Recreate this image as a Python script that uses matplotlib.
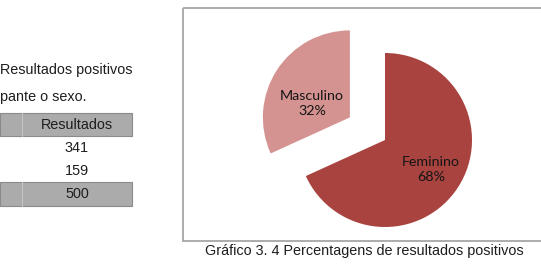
import matplotlib
matplotlib.use('Agg')
import matplotlib.pyplot as plt
import numpy as np
from matplotlib.patches import Rectangle

# dados
categorias = ['Feminino', 'Masculino']
resultados = [341, 159]
total = 500
cabecalho = 'Resultados'
cores = ['#a8433f', '#d49391']
legenda = 'Gráfico 3. 4 Percentagens de resultados positivos'
texto_tabela = ['Resultados positivos', 'pante o sexo.']

W, H = 541, 278
fig = plt.figure(figsize=(W / 100, H / 100), dpi=100)

# eixo de fundo em pixels
fundo = fig.add_axes([0, 0, 1, 1])
fundo.set_xlim(0, W)
fundo.set_ylim(H, 0)
fundo.axis('off')

fs = 10.4
# texto antes da tabela
fundo.text(0, 70, texto_tabela[0], family='Liberation Sans', fontsize=fs,
           color='#1e1e1e', va='center', ha='left')
fundo.text(0, 97, texto_tabela[1], family='Liberation Sans', fontsize=fs,
           color='#1e1e1e', va='center', ha='left')

# tabela
cinza = '#ababab'
borda = '#8a8a8a'
fundo.add_patch(Rectangle((0, 113), 132, 23, facecolor=cinza, edgecolor=borda, lw=0.8))
fundo.add_patch(Rectangle((0, 182), 132, 24, facecolor=cinza, edgecolor=borda, lw=0.8))
fundo.plot([22, 22], [113, 136], color='#c4c4c4', lw=0.8)
fundo.plot([22, 22], [182, 206], color='#c4c4c4', lw=0.8)
fundo.text(77, 125, cabecalho, family='Liberation Sans', fontsize=fs,
           color='#1e1e1e', ha='center', va='center')
for i, v in enumerate(resultados):
    fundo.text(77, 148 + 23 * i, str(v), family='Liberation Sans', fontsize=fs,
               color='#1e1e1e', ha='center', va='center')
fundo.text(77, 194, str(total), family='Liberation Sans', fontsize=fs,
           color='#1e1e1e', ha='center', va='center')

# moldura do grafico
fundo.add_patch(Rectangle((183, 8), 370, 233, facecolor='none',
                          edgecolor='#a6a6a6', lw=1.3))

# legenda do grafico
fundo.text(364, 251, legenda, family='Liberation Sans', fontsize=fs,
           color='#1e1e1e', ha='center', va='center')

# pizza
R = 87
cx, cy = 385, 140
lado = 3 * R
ax = fig.add_axes([(cx - lado / 2) / W, (H - cy - lado / 2) / H, lado / W, lado / H])
fatias, textos, pcts = ax.pie(resultados, colors=cores, startangle=90, counterclock=False,
                              explode=[0, 0.48], autopct='%1.0f%%', pctdistance=0.6,
                              wedgeprops=dict(linewidth=0))
ax.set_xlim(-1.5, 1.5)
ax.set_ylim(-1.5, 1.5)
ax.set_aspect('auto')

dist = [0.63, 0.52]
for i, (f, t) in enumerate(zip(fatias, pcts)):
    ang = np.deg2rad((f.theta1 + f.theta2) / 2)
    x0, y0 = f.center
    t.set_position((x0 + dist[i] * np.cos(ang), y0 + dist[i] * np.sin(ang) - (0.12 if i == 1 else 0)))
    t.set_text(categorias[i] + '\n' + t.get_text())
    t.set_ha('center')
    t.set_va('center')
    t.set_family('Lato')
    t.set_fontsize(10.3)
    t.set_color('#151515')
    t.set_linespacing(1.35)

fig.savefig('out.png', dpi=100)
